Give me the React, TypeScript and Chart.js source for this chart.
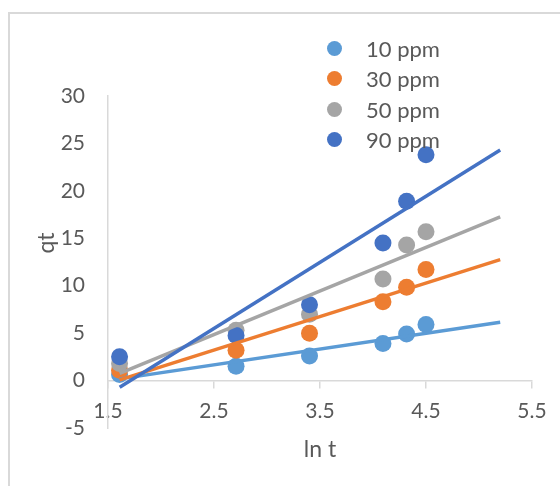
import React, { useEffect, useRef } from "react";
import { Chart, registerables } from "chart.js";

Chart.register(...registerables);

// ---- data ----
const lnT = [1.609, 2.708, 3.401, 4.094, 4.317, 4.5];
const q10 = [0.63, 1.5, 2.6, 3.9, 4.9, 5.9];
const q30 = [1.1, 3.2, 5.0, 8.3, 9.85, 11.7];
const q50 = [1.8, 5.3, 7.0, 10.7, 14.3, 15.7];
const q90 = [2.5, 4.75, 8.0, 14.5, 18.9, 23.8];

const seriesNames = ["10 ppm", "30 ppm", "50 ppm", "90 ppm"];
const seriesColors = ["#5B9BD5", "#ED7D31", "#A5A5A5", "#4472C4"];

// linear trendlines (end points)
const trendX = [1.61, 5.2];
const trend10 = [0.18, 6.15];
const trend30 = [0.07, 12.75];
const trend50 = [0.77, 17.25];
const trend90 = [-0.7, 24.3];

const xTicks = [1.5, 2.5, 3.5, 4.5, 5.5];
const xTickLabels = ["1.5", "2.5", "3.5", "4.5", "5.5"];
const yTicks = [-5, 0, 5, 10, 15, 20, 25, 30];
const yTickLabels = ["-5", "0", "5", "10", "15", "20", "25", "30"];

const xTitle = "ln t";
const yTitle = "qt";

const FONT = "Lato, 'Open Sans', sans-serif";
const TEXT = "#595959";
const AXIS = "#d9d9d9";

const pointSeries = [q10, q30, q50, q90];
const trendSeries = [trend10, trend30, trend50, trend90];

const axisTitlePlugin = {
  id: "axisTitles",
  afterDraw(chart: any) {
    const { ctx, chartArea } = chart;
    ctx.save();
    ctx.fillStyle = TEXT;
    ctx.font = `23px ${FONT}`;
    ctx.textAlign = "center";
    ctx.textBaseline = "middle";
    ctx.fillText(xTitle, (chartArea.left + chartArea.right) / 2, chartArea.bottom + 22);
    ctx.translate(chartArea.left - 61, (chartArea.top + chartArea.bottom) / 2 - 19);
    ctx.rotate(-Math.PI / 2);
    ctx.fillText(yTitle, 0, 0);
    ctx.restore();
  },
};

export default function App() {
  const canvasRef = useRef<HTMLCanvasElement | null>(null);

  useEffect(() => {
    if (!canvasRef.current) return;
    const trendDatasets = trendSeries.map((t, i) => ({
      label: seriesNames[i] + " trend",
      data: trendX.map((x, j) => ({ x, y: t[j] })),
      showLine: true,
      borderColor: seriesColors[i],
      backgroundColor: seriesColors[i],
      borderWidth: 3.5,
      pointRadius: 0,
      order: 3 - i,
    }));
    const pointDatasets = pointSeries.map((s, i) => ({
      label: seriesNames[i],
      data: lnT.map((x, j) => ({ x, y: s[j] })),
      showLine: false,
      borderColor: seriesColors[i],
      backgroundColor: seriesColors[i],
      pointRadius: 8.5,
      pointBorderWidth: 0,
      order: 10 - i,
    }));

    const chart = new Chart(canvasRef.current, {
      type: "scatter",
      data: { datasets: [...trendDatasets, ...pointDatasets] as any },
      plugins: [axisTitlePlugin],
      options: {
        animation: false,
        responsive: false,
        layout: { padding: { top: 96, right: 28, bottom: 58, left: 0 } },
        plugins: { legend: { display: false }, tooltip: { enabled: false } },
        scales: {
          x: {
            type: "linear",
            position: { y: 0 } as any,
            min: 1.5,
            max: 5.5,
            afterBuildTicks: (scale: any) => {
              scale.ticks = xTicks.map((v) => ({ value: v }));
            },
            ticks: {
              callback: (_v: any, i: number) => xTickLabels[i],
              font: { family: FONT, size: 21, lineHeight: 1.2 },
              color: TEXT,
              padding: 11,
              maxRotation: 0,
            },
            grid: {
              display: true,
              drawOnChartArea: false,
              drawTicks: true,
              tickLength: 7,
              color: AXIS,
              lineWidth: 1.5,
            },
            border: { display: true, color: AXIS, width: 1.5 },
          },
          y: {
            type: "linear",
            position: "left",
            min: -5,
            max: 30,
            afterBuildTicks: (scale: any) => {
              scale.ticks = yTicks.map((v) => ({ value: v }));
            },
            afterFit: (scale: any) => {
              scale.width = 108;
            },
            ticks: {
              callback: (_v: any, i: number) => yTickLabels[i],
              font: { family: FONT, size: 21, lineHeight: 1.2 },
              color: TEXT,
              padding: 23,
            },
            grid: { display: false, drawTicks: false },
            border: { display: true, color: AXIS, width: 1.5 },
          },
        },
      },
    });
    return () => chart.destroy();
  }, []);

  return (
    <div
      style={{
        position: "absolute",
        left: 0,
        top: 0,
        width: 560,
        height: 486,
        overflow: "hidden",
        background: "#fff",
      }}
    >
      <div
        style={{
          position: "absolute",
          left: 8,
          top: 12,
          width: 600,
          height: 520,
          borderLeft: `2px solid ${AXIS}`,
          borderTop: `2px solid ${AXIS}`,
        }}
      />
      <canvas
        ref={canvasRef}
        width={560}
        height={486}
        style={{ position: "absolute", left: 0, top: 0 }}
      />
      <div style={{ position: "absolute", left: 0, top: 0 }}>
        {seriesNames.map((name, i) => (
          <div
            key={name}
            style={{
              position: "absolute",
              left: 327,
              top: 33 + i * 30.5,
              height: 30,
              display: "flex",
              alignItems: "center",
              whiteSpace: "nowrap",
              fontFamily: FONT,
              fontSize: 22,
              color: TEXT,
            }}
          >
            <span
              style={{
                display: "inline-block",
                width: 15,
                height: 15,
                borderRadius: "50%",
                background: seriesColors[i],
              }}
            />
            <span style={{ marginLeft: 24 }}>{name}</span>
          </div>
        ))}
      </div>
    </div>
  );
}
